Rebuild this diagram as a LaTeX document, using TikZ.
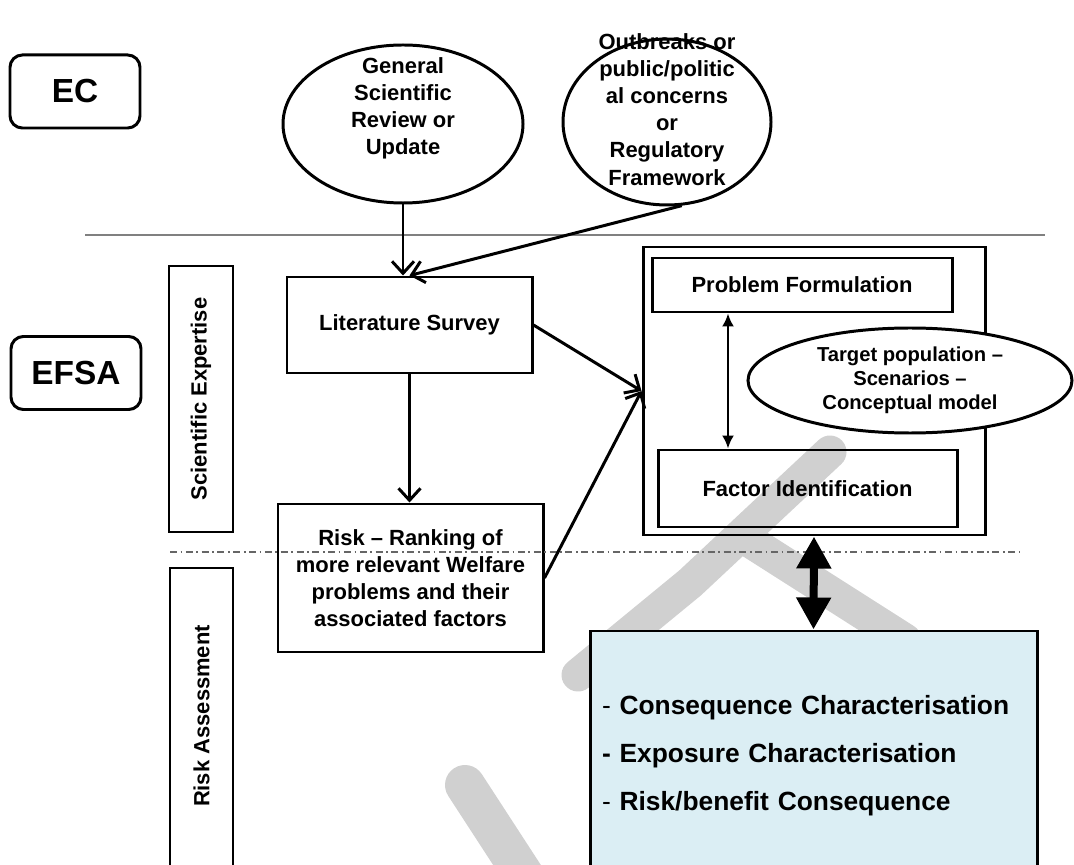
\documentclass[tikz,border=0pt]{standalone}
\usepackage{fontspec}
\setmainfont{Liberation Sans}
\usetikzlibrary{arrows.meta,shapes.geometric}
\definecolor{wmgray}{RGB}{208,208,208}
\definecolor{paleblue}{RGB}{219,238,244}
\newcommand{\boxfont}{\fontsize{12.5}{15.4}\selectfont\bfseries}

\begin{document}
\begin{tikzpicture}[
    headbox/.style={draw,rounded corners=7pt,line width=1.7pt,minimum width=2.6cm,minimum height=1.46cm,font=\fontsize{19}{22}\selectfont\bfseries},
    source/.style={draw,ellipse,line width=1.7pt,inner sep=0pt},
    srctext/.style={align=center,font=\boxfont},
    stepbox/.style={draw,rectangle,line width=1.7pt,align=center,font=\boxfont},
    sidebox/.style={draw,rectangle,line width=1.7pt,rotate=90,font=\boxfont},
    flow/.style={-{Straight Barb[length=2.4mm,width=4.4mm]},line width=1.7pt},
    wmstroke/.style={wmgray,line width=6.6mm,line cap=round,line join=round}]
    \useasboundingbox (0,0) rectangle (21.48,-17.3);
    \clip (0,0) rectangle (21.48,-17.3);

    % watermark
    \draw[wmstroke] (16.6,-9.04) -- (13.8,-11.66) -- (11.56,-13.5);
    \draw[wmstroke] (14.96,-10.8) -- (18.1,-12.8);
    \draw[wmstroke,line width=8mm] (9.3,-15.7) -- (10.6,-17.7);

    % separators
    \draw[gray,line width=0.6pt] (1.7,-4.7) -- (20.9,-4.7);

    \node[headbox] (EC)   at (1.5,-1.83) {EC};
    \node[headbox] (EFSA) at (1.52,-7.46) {EFSA};

    \node[source,minimum width=4.8cm,minimum height=3.16cm]  (GenReview) at (8.06,-2.48) {};
    \node[srctext] (GenReviewText) at (8.06,-2.16) {General\\Scientific\\Review or\\Update};
    \node[source,minimum width=4.16cm,minimum height=3.32cm] (Outbreaks) at (13.34,-2.44) {};
    \node[srctext] (OutbreaksText) at (13.34,-2.19) {Outbreaks or\\public/politic\\al concerns\\or\\Regulatory\\Framework};

    \node[sidebox,minimum width=5.32cm,minimum height=1.28cm] (SciExpertise) at (4.02,-7.98) {Scientific Expertise};
    \node[sidebox,minimum width=6.34cm,minimum height=1.26cm] (RiskAssess) at (4.03,-14.53) {};
    \node[rotate=90,font=\boxfont] (RiskAssessText) at (4.03,-14.32) {Risk Assessment};

    \node[stepbox,minimum width=4.9cm,minimum height=1.92cm] (LitSurvey) at (8.19,-6.5) {Literature Survey};
    \node[stepbox,minimum width=5.3cm,minimum height=2.96cm] (RiskRanking) at (8.21,-11.56)
        {Risk -- Ranking of\\more relevant Welfare\\problems and their\\associated factors};

    \node[stepbox,minimum width=6.84cm,minimum height=5.76cm] (Framing)    at (16.28,-7.82) {};
    \node[stepbox,minimum width=6.0cm,minimum height=1.08cm]  (ProbForm)   at (16.04,-5.70) {Problem Formulation};
    \node[stepbox,minimum width=5.98cm,minimum height=1.54cm] (FactorId)   at (16.15,-9.77) {Factor Identification};
    \node[source,fill=white,align=center,font=\fontsize{11.5}{13.6}\selectfont\bfseries,
          minimum width=6.48cm,minimum height=2.1cm] (Target) at (18.2,-7.61)
        {Target population --\\Scenarios --\\Conceptual model};

    \node[draw,fill=paleblue,line width=1.7pt,minimum width=8.94cm,minimum height=4.98cm,
          text width=8.46cm,inner sep=0pt,align=left,font=\fontsize{15}{27.2}\selectfont\bfseries] (Result) at (16.27,-15.11)
        {{\mdseries -} Consequence Characterisation\\- Exposure Characterisation\\{\mdseries -} Risk/benefit Consequence};

    \draw[gray!80!black,line width=0.7pt,dash pattern=on 4pt off 2pt on 1pt off 2pt] (3.4,-11.04) -- (20.4,-11.04);

    \coordinate (PFAxis) at (14.56,0);
    \path[flow] (GenReview.south) edge (GenReview.south |- LitSurvey.north)
                (Outbreaks.-80)   edge (LitSurvey.north)
                (LitSurvey.south) edge (LitSurvey.south |- RiskRanking.north)
                (LitSurvey.east)  edge (Framing.west)
                (RiskRanking.east) edge (Framing.west);
    \draw[{Latex[length=2.6mm,width=2.4mm]}-{Latex[length=2.6mm,width=2.4mm]},line width=1.3pt]
        (ProbForm.south -| PFAxis) -- (FactorId.north -| PFAxis);
    \draw[{Triangle[length=6.4mm,width=6.6mm]}-{Triangle[length=6.4mm,width=6.6mm]},line width=1.6mm]
        (Framing.south) -- (Result.north);
\end{tikzpicture}
\end{document}
